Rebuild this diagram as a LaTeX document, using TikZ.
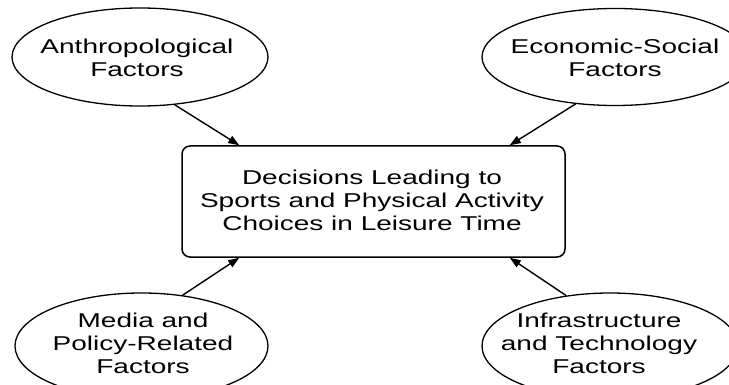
\documentclass[tikz,border=0pt]{standalone}
\usepackage{fontspec}
\setmainfont{Liberation Sans}[FakeStretch=1.4]
\usetikzlibrary{shapes.geometric,arrows.meta}
\begin{document}
\begin{tikzpicture}[x=1pt,y=-1pt,
  every node/.style={font=\fontsize{20}{23}\selectfont},
  factor/.style={draw,line width=1.3pt,ellipse,inner sep=0pt},
  lbl/.style={align=center,inner sep=0pt},
  mainbox/.style={draw,line width=1.5pt,rounded corners=8pt,minimum width=383pt,minimum height=111pt,inner sep=0pt,align=center},
  conn/.style={line width=1.4pt,-{Triangle[length=11pt,width=8pt]}}]
\useasboundingbox (0,0) rectangle (729,385);
\node[mainbox] (box) at (373.5,201.5) {};
\node[lbl] (boxtext) at (372,200) {Decisions Leading to\\Sports and Physical Activity\\Choices in Leisure Time};
\node[factor,minimum width=256pt,minimum height=98pt] (tl) at (140,57) {};
\node[lbl] (tltext) at (137,58) {Anthropological\\Factors};
\node[factor,minimum width=266pt,minimum height=97pt] (tr) at (615,57) {};
\node[lbl] (trtext) at (615,58) {Economic-Social\\Factors};
\node[factor,minimum width=253pt,minimum height=106pt] (bl) at (141.5,346) {};
\node[lbl] (bltext) at (143,343) {Media and\\Policy-Related\\Factors};
\node[factor,minimum width=256pt,minimum height=106pt] (br) at (610,346) {};
\node[lbl] (brtext) at (599,343) {Infrastructure\\and Technology\\Factors};
\draw[conn] (tl.-54) -- ([xshift=58pt]box.north west);
\draw[conn] (tr.-130) -- ([xshift=-56pt]box.north east);
\draw[conn] (bl.51) -- ([xshift=58pt]box.south west);
\draw[conn] (br.131) -- ([xshift=-56pt]box.south east);
\end{tikzpicture}
\end{document}
